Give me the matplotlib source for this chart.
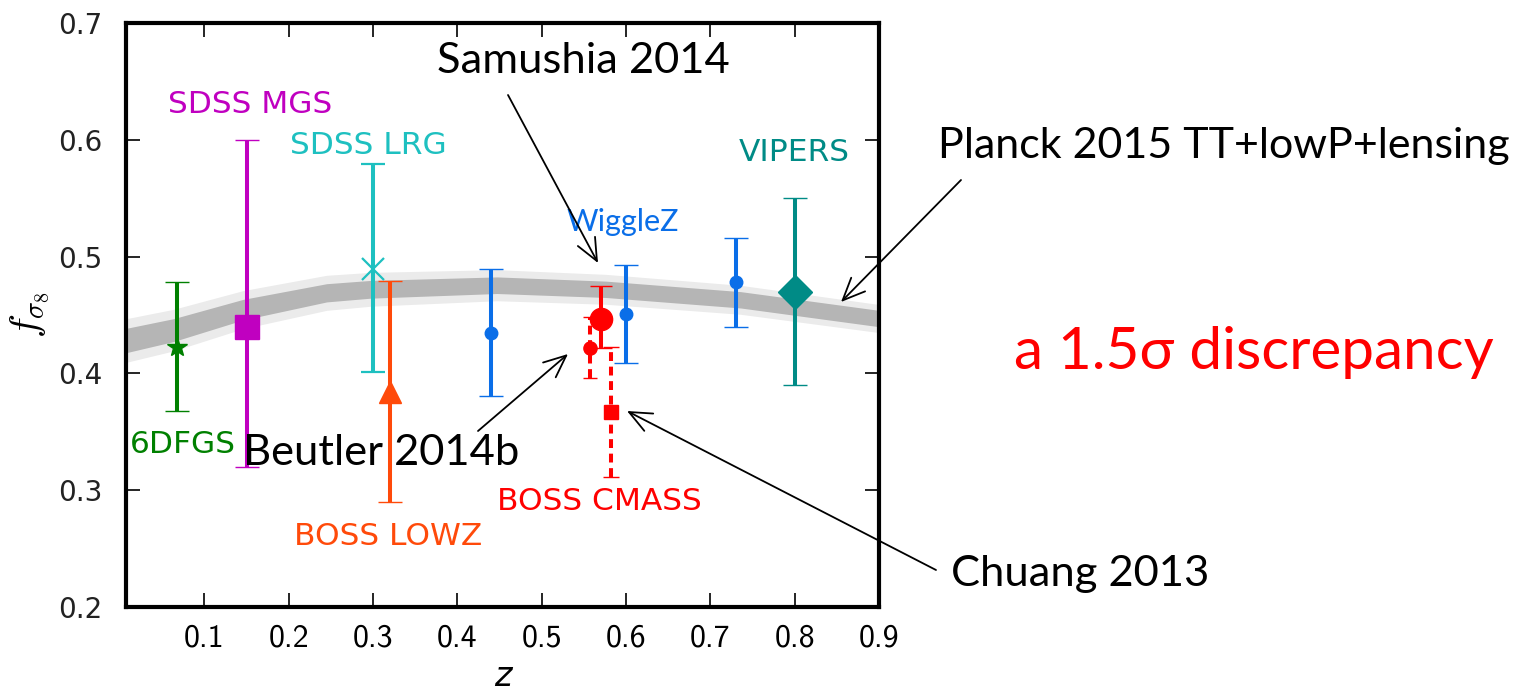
import numpy as np
import matplotlib.pyplot as plt
from matplotlib.patches import FancyArrowPatch

plt.rcParams['mathtext.fontset'] = 'cm'

# f*sigma8 measurements: redshift, value, lower error, upper error
z_6dfgs, fs8_6dfgs, lo_6dfgs, hi_6dfgs = [0.067], [0.423], [0.055], [0.055]
z_mgs, fs8_mgs, lo_mgs, hi_mgs = [0.15], [0.44], [0.12], [0.16]
z_lrg, fs8_lrg, lo_lrg, hi_lrg = [0.30], [0.489], [0.088], [0.09]
z_lowz, fs8_lowz, lo_lowz, hi_lowz = [0.32], [0.384], [0.094], [0.095]
z_wigglez = [0.44, 0.60, 0.73]
fs8_wigglez = [0.435, 0.451, 0.478]
err_wigglez = [0.054, 0.042, 0.038]
z_vipers, fs8_vipers, err_vipers = [0.80], [0.47], [0.08]

# BOSS CMASS analyses
z_samushia, fs8_samushia, lo_samushia, hi_samushia = [0.57], [0.447], [0.025], [0.028]
z_beutler, fs8_beutler, err_beutler = [0.557], [0.422], [0.026]
z_chuang, fs8_chuang, err_chuang = [0.582], [0.367], [0.056]

# Planck 2015 TT+lowP+lensing prediction band (1 and 2 sigma half widths)
z_planck = [0.0, 0.063, 0.146, 0.245, 0.297, 0.447, 0.576, 0.736, 0.91]
fs8_planck = [0.427, 0.437, 0.4546, 0.469, 0.472, 0.4755, 0.472, 0.463, 0.446]
sig1_planck = [0.0105, 0.0098, 0.0088, 0.0078, 0.0076, 0.0071, 0.007, 0.007, 0.007]
sig2_planck = [0.0188, 0.0178, 0.0163, 0.015, 0.0145, 0.0133, 0.0128, 0.0124, 0.012]

W, H = 1518, 694
fig = plt.figure(figsize=(W / 100, H / 100), dpi=100)
ax = fig.add_axes([126 / W, 1 - 607 / H, (879 - 126) / W, (607 - 23) / H])

zp = np.array(z_planck)
mp = np.array(fs8_planck)
ax.fill_between(zp, mp - np.array(sig2_planck), mp + np.array(sig2_planck),
                color='#ebebeb', lw=0, zorder=1)
ax.fill_between(zp, mp - np.array(sig1_planck), mp + np.array(sig1_planck),
                color='#b5b5b5', lw=0, zorder=1.1)


def points(z, y, err, color, marker, ms, cap, lw=2.9, mew=1.0, dashed=False):
    eb = ax.errorbar(z, y, yerr=err, fmt=marker, color=color, ms=ms, mew=mew,
                     elinewidth=lw, capsize=cap, capthick=lw, zorder=3)
    if dashed:
        eb[2][0].set_linestyle((0, (2.2, 1.4)))
    return eb


points(z_6dfgs, fs8_6dfgs, [lo_6dfgs, hi_6dfgs], '#008000', '*', 15, 8.5)
points(z_mgs, fs8_mgs, [lo_mgs, hi_mgs], '#c000c0', 's', 17, 8.5)
points(z_lrg, fs8_lrg, [lo_lrg, hi_lrg], '#1ec0c0', 'x', 16, 8.5, mew=1.6)
points(z_lowz, fs8_lowz, [lo_lowz, hi_lowz], '#ff4a0a', '^', 16, 8.5)
points(z_wigglez, fs8_wigglez, err_wigglez, '#0a6ee8', 'o', 9, 8.5)
points(z_vipers, fs8_vipers, err_vipers, '#008b86', 'D', 17, 8.5)
points(z_beutler, fs8_beutler, err_beutler, '#ff0000', 'o', 9.5, 5, dashed=True)
points(z_chuang, fs8_chuang, err_chuang, '#ff0000', 's', 10, 6, dashed=True)
points(z_samushia, fs8_samushia, [lo_samushia, hi_samushia], '#ff0000', 'o', 16, 8)

label_kw = dict(ha='center', va='center', fontsize=22.5, family='DejaVu Sans')
ax.text(0.154, 0.630, 'SDSS MGS', color='#c000c0', **label_kw)
ax.text(0.295, 0.5955, 'SDSS LRG', color='#1ec0c0', **label_kw)
ax.text(0.800, 0.589, 'VIPERS', color='#008b86', **label_kw)
ax.text(0.075, 0.339, '6DFGS', color='#008000', **label_kw)
ax.text(0.318, 0.260, 'BOSS LOWZ', color='#ff4a0a', **label_kw)
ax.text(0.5686, 0.290, 'BOSS CMASS', color='#ff0000', **label_kw)
ax.text(0.596, 0.5296, 'WiggleZ', color='#0a6ee8', ha='center', va='center',
        fontsize=22, family='Lato')

ax.set_xlim(0.007, 0.9)
ax.set_ylim(0.2, 0.7)
ax.set_xticks(np.arange(0.1, 0.91, 0.1))
ax.set_yticks(np.arange(0.2, 0.71, 0.1))
ax.set_xticklabels(['%.1f' % v for v in np.arange(0.1, 0.91, 0.1)],
                   family='cmss10', fontsize=23)
ax.set_yticklabels(['%.1f' % v for v in np.arange(0.2, 0.71, 0.1)],
                   family='DejaVu Sans', fontsize=20, color='#222222')
ax.tick_params(direction='in', length=10, width=1.2, top=True, right=True)
ax.tick_params(axis='x', pad=12)
ax.tick_params(axis='y', pad=17)
for s in ax.spines.values():
    s.set_linewidth(3)

ax.set_xlabel('z', fontsize=24, fontstyle='italic', family='DejaVu Sans',
              labelpad=5)
ax.set_ylabel(r'$f_{\sigma_8}$', fontsize=29, labelpad=4)


def fig_text(x, y, s, **kw):
    fig.text(x / W, 1 - y / H, s, ha='left', va='baseline', family='Lato', **kw)


def fig_arrow(x0, y0, x1, y1):
    fig.add_artist(FancyArrowPatch((x0 / W, 1 - y0 / H), (x1 / W, 1 - y1 / H),
                                   transform=fig.transFigure,
                                   arrowstyle='->,head_length=0.8,head_width=0.35',
                                   mutation_scale=20, lw=1.3, color='black',
                                   shrinkA=0, shrinkB=0, zorder=10))


fig_text(437, 73, 'Samushia 2014', fontsize=31.3)
fig_text(938, 158, 'Planck 2015 TT+lowP+lensing', fontsize=31)
fig_text(1014, 369, 'a 1.5σ discrepancy', fontsize=42, color='#ff0000')
fig_text(243, 465, 'Beutler 2014b', fontsize=31.3)
fig_text(951, 586, 'Chuang 2013', fontsize=31.3)

fig_arrow(508, 95, 598, 263)
fig_arrow(961, 180, 841, 302)
fig_arrow(478, 431, 568, 354)
fig_arrow(936, 570, 627, 411)

fig.savefig('out.png', dpi=100)
